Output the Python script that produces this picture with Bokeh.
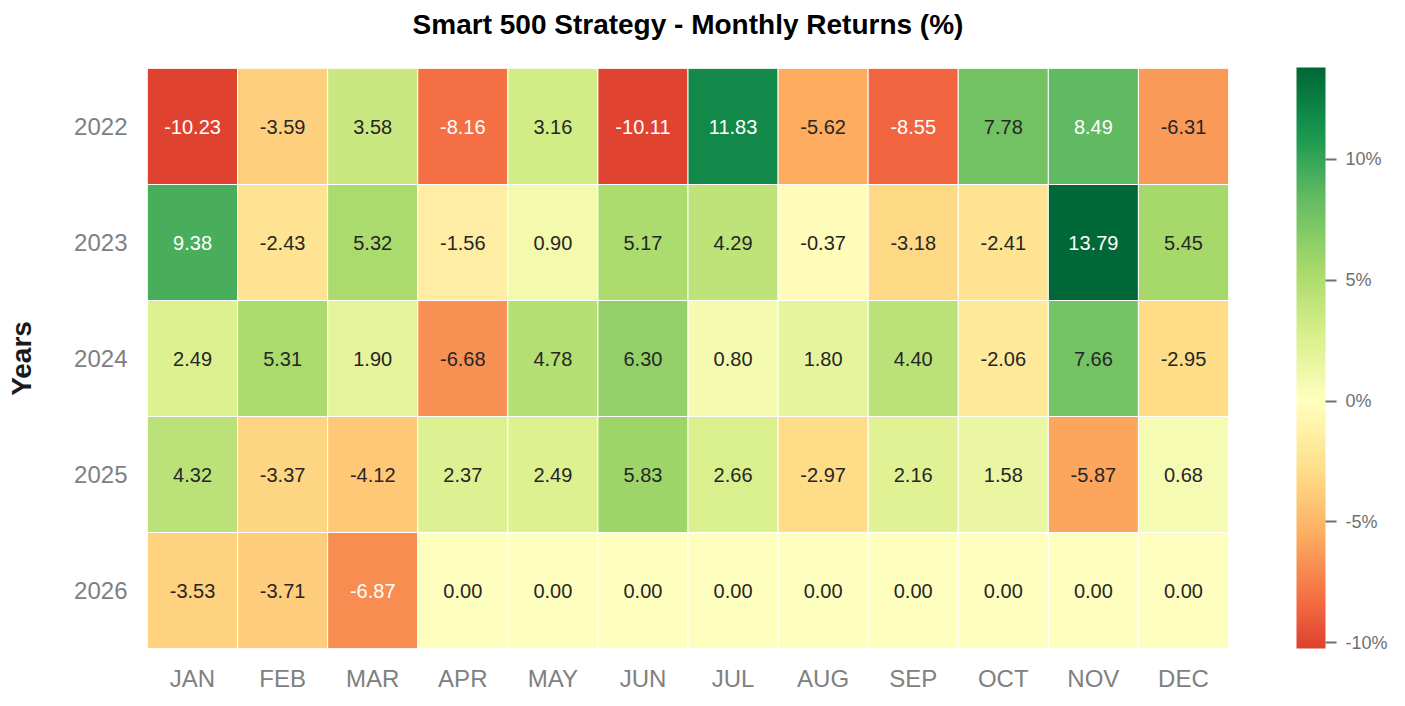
import math
from bokeh.plotting import figure
from bokeh.models import (ColumnDataSource, FactorRange, LinearColorMapper, ColorBar,
                          FixedTicker, PrintfTickFormatter, Title)
from bokeh.transform import transform
from bokeh.core.properties import value
from bokeh.embed import file_html
from bokeh.resources import INLINE

# ---- data ----
title_text = "Smart 500 Strategy - Monthly Returns (%)"
years = ["2022", "2023", "2024", "2025", "2026"]
months = ["JAN", "FEB", "MAR", "APR", "MAY", "JUN", "JUL", "AUG", "SEP", "OCT", "NOV", "DEC"]
r2022 = [-10.23, -3.59, 3.58, -8.16, 3.16, -10.11, 11.83, -5.62, -8.55, 7.78, 8.49, -6.31]
r2023 = [9.38, -2.43, 5.32, -1.56, 0.90, 5.17, 4.29, -0.37, -3.18, -2.41, 13.79, 5.45]
r2024 = [2.49, 5.31, 1.90, -6.68, 4.78, 6.30, 0.80, 1.80, 4.40, -2.06, 7.66, -2.95]
r2025 = [4.32, -3.37, -4.12, 2.37, 2.49, 5.83, 2.66, -2.97, 2.16, 1.58, -5.87, 0.68]
r2026 = [-3.53, -3.71, -6.87, 0.00, 0.00, 0.00, 0.00, 0.00, 0.00, 0.00, 0.00, 0.00]
rows = [r2022, r2023, r2024, r2025, r2026]
cbar_ticks = [-10, -5, 0, 5, 10]

# ---- colormap: RdYlGn centred on 0 (seaborn style) ----
RDYLGN = ['#a50026', '#d73027', '#f46d43', '#fdae61', '#fee08b', '#ffffbf',
          '#d9ef8b', '#a6d96a', '#66bd63', '#1a9850', '#006837']


def hex2rgb(h):
    return tuple(int(h[i:i + 2], 16) for i in (1, 3, 5))


def cmap_at(f):
    f = min(max(f, 0.0), 1.0) * (len(RDYLGN) - 1)
    i = min(int(math.floor(f)), len(RDYLGN) - 2)
    t = f - i
    a, b = hex2rgb(RDYLGN[i]), hex2rgb(RDYLGN[i + 1])
    return tuple(a[k] + (b[k] - a[k]) * t for k in range(3))


all_vals = [v for r in rows for v in r]
vmin, vmax = min(all_vals), max(all_vals)
vrange = max(vmax, -vmin)
cmin = (vmin + vrange) / (2 * vrange)
cmax = (vmax + vrange) / (2 * vrange)
N = 256
pal_rgb = [cmap_at(cmin + (cmax - cmin) * i / (N - 1)) for i in range(N)]
palette = ['#%02x%02x%02x' % tuple(int(round(c)) for c in rgb) for rgb in pal_rgb]
mapper = LinearColorMapper(palette=palette, low=vmin, high=vmax)


def lum(rgb):
    out = []
    for c in rgb:
        c = c / 255.0
        out.append(c / 12.92 if c <= 0.03928 else ((c + 0.055) / 1.055) ** 2.4)
    return 0.2126 * out[0] + 0.7152 * out[1] + 0.0722 * out[2]


xs, ys, vals, labels, tcolors = [], [], [], [], []
for y, r in zip(years, rows):
    for m, v in zip(months, r):
        xs.append(m)
        ys.append(y)
        vals.append(v)
        labels.append("%.2f" % v)
        idx = int((v - vmin) / (vmax - vmin) * N)
        idx = min(max(idx, 0), N - 1)
        tcolors.append("#262626" if lum(pal_rgb[idx]) > 0.408 else "#ffffff")

src = ColumnDataSource(dict(x=xs, y=ys, val=vals, label=labels, tc=tcolors))

FONT = "Liberation Sans"
W, H = 1397, 697
FL, FR, FT, FB = 147, 1228, 68, 648
p = figure(width=W, height=H, x_range=FactorRange(*months),
           y_range=FactorRange(*list(reversed(years))),
           output_backend="svg", toolbar_location=None,
           min_border_left=FL, min_border_right=W - FR, min_border_top=FT,
           min_border_bottom=H - FB)
p.outline_line_color = None
p.grid.visible = False
p.background_fill_color = "white"

p.rect(x="x", y="y", width=1, height=1, source=src,
       fill_color=transform("val", mapper), line_color="white", line_width=1)
p.text(x="x", y="y", text="label", source=src, text_color="tc",
       text_align="center", text_baseline="middle",
       text_font=value(FONT), text_font_size="20px")

# a blank spacer line between the frame and the title, then the title
p.add_layout(Title(text=" ", text_font_size="10px", text_color="white", standoff=11), "above")
p.add_layout(Title(text=title_text, align="center", vertical_align="bottom", standoff=10,
                   text_font=FONT, text_font_size="28px", text_font_style="bold",
                   text_color="black"), "above")

for ax in (p.xaxis[0], p.yaxis[0]):
    ax.axis_line_color = None
    ax.major_tick_line_color = None
    ax.minor_tick_line_color = None
    ax.major_tick_out = 0
    ax.major_tick_in = 0
    ax.major_label_text_font = FONT
    ax.major_label_text_font_size = "24px"
    ax.major_label_text_color = "#808080"

p.xaxis.major_label_standoff = 16
p.yaxis.major_label_standoff = 20
p.yaxis.axis_label = "Years"
p.yaxis.axis_label_text_font = FONT
p.yaxis.axis_label_text_font_size = "28px"
p.yaxis.axis_label_text_font_style = "bold"
p.yaxis.axis_label_text_color = "#1a1a1a"
p.yaxis.axis_label_standoff = 34

cb = ColorBar(color_mapper=mapper, ticker=FixedTicker(ticks=cbar_ticks),
              formatter=PrintfTickFormatter(format="%d%%"),
              location=(68, 0),
              width=29, height=581, margin=0, padding=0,
              major_tick_in=0, major_tick_out=11,
              major_tick_line_color="#707070", major_tick_line_width=2,
              minor_tick_line_color=None, bar_line_color=None,
              border_line_color=None, background_fill_alpha=0,
              label_standoff=9,
              major_label_text_font=FONT, major_label_text_font_size="18px",
              major_label_text_color="#707070")
p.add_layout(cb, "right")

open("out.html", "w").write(file_html(p, INLINE))
